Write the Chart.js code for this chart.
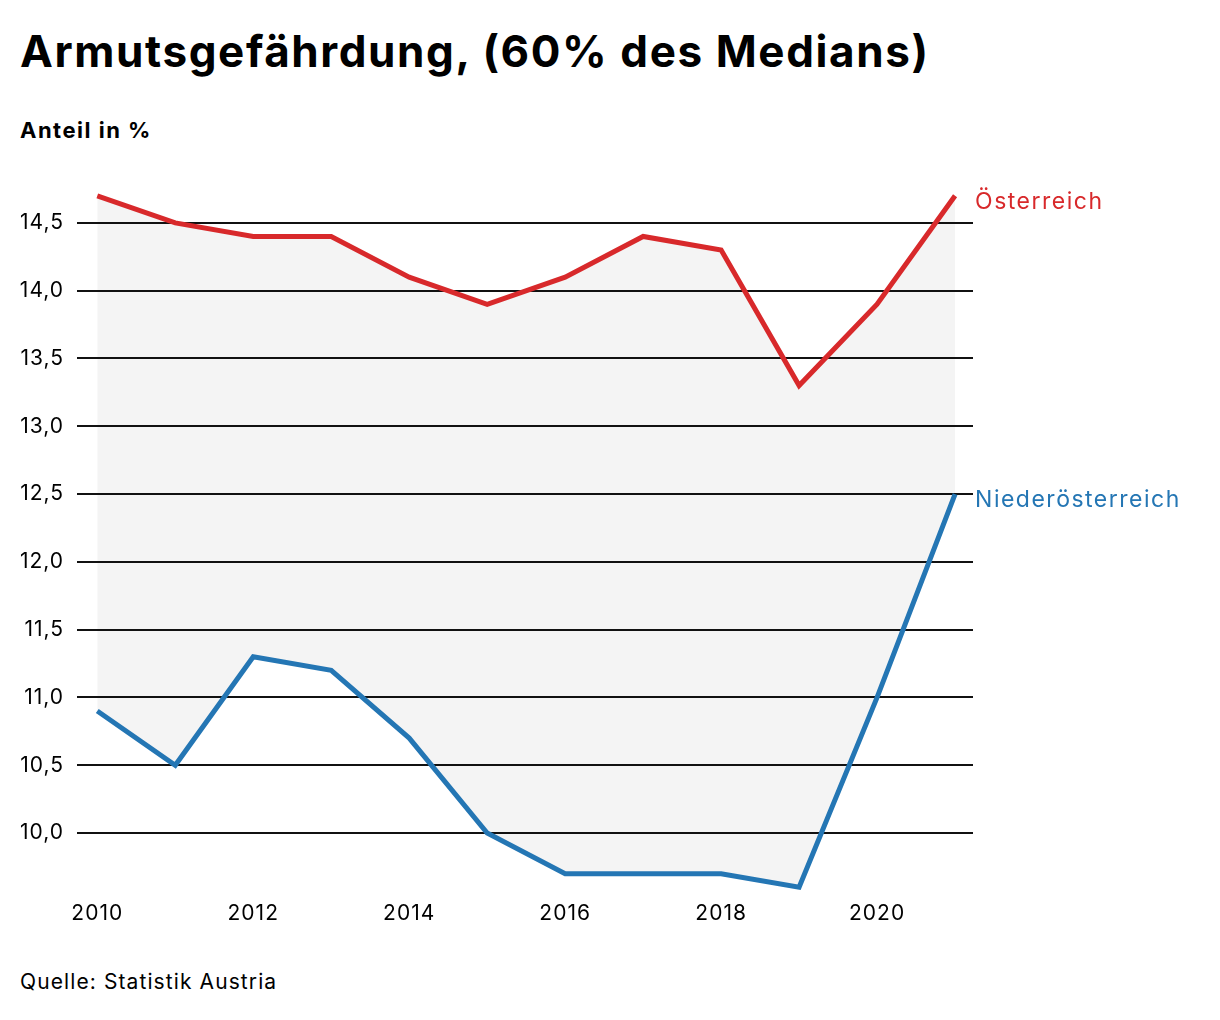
<!DOCTYPE html>
<html lang="de">
<head>
<meta charset="utf-8">
<script src="https://cdn.jsdelivr.net/npm/chart.js@4"></script>
<style>
  html, body { margin: 0; padding: 0; background: #fff; }
  body { width: 1220px; height: 1020px; position: relative; overflow: hidden; font-family: Inter, "Noto Sans", sans-serif; color: #000; }
  #title { position: absolute; left: 20px; top: 24px; font-size: 44px; font-weight: 700; white-space: nowrap; letter-spacing: 1.6px; }
  #subtitle { position: absolute; left: 20px; top: 117px; font-size: 22px; font-weight: 700; letter-spacing: 1.5px; }
  #source { position: absolute; left: 20px; top: 969px; font-size: 21px; letter-spacing: 1.1px; }
  #wrap { position: absolute; left: 0; top: 150px; width: 1220px; height: 800px; }
</style>
</head>
<body>
<div id="title">Armutsgefährdung, (60% des Medians)</div>
<div id="subtitle">Anteil in %</div>
<div id="wrap"><canvas id="chart"></canvas></div>
<div id="source">Quelle: Statistik Austria</div>
<script>
const years = [2010, 2011, 2012, 2013, 2014, 2015, 2016, 2017, 2018, 2019, 2020, 2021];
const oesterreich = [14.7, 14.5, 14.4, 14.4, 14.1, 13.9, 14.1, 14.4, 14.3, 13.3, 13.9, 14.7];
const niederoesterreich = [10.9, 10.5, 11.3, 11.2, 10.7, 10.0, 9.7, 9.7, 9.7, 9.6, 11.0, 12.5];
const xTicks = [2010, 2012, 2014, 2016, 2018, 2020];
const yTicks = [10.0, 10.5, 11.0, 11.5, 12.0, 12.5, 13.0, 13.5, 14.0, 14.5];

const red = '#d8292b';
const blue = '#2476b4';
const fontFamily = 'Inter, "Noto Sans", sans-serif';

// wider text on the canvas, closer to the original typeface
const spacing = {
    id: 'spacing',
    beforeDraw(chart) {
        chart.ctx.letterSpacing = '1px';
    }
};

const endLabels = {
    id: 'endLabels',
    afterDatasetsDraw(chart) {
        const ctx = chart.ctx;
        ctx.save();
        ctx.font = '23px ' + fontFamily;
        ctx.letterSpacing = '1.5px';
        ctx.textAlign = 'left';
        ctx.textBaseline = 'middle';
        chart.data.datasets.forEach((ds, i) => {
            const pts = chart.getDatasetMeta(i).data;
            const last = pts[pts.length - 1];
            ctx.fillStyle = ds.borderColor;
            ctx.fillText(ds.label, last.x + 20, last.y + 6);
        });
        ctx.restore();
    }
};

const toPoints = (vals) => vals.map((v, i) => ({ x: years[i], y: v }));

new Chart(document.getElementById('chart'), {
    type: 'line',
    data: {
        datasets: [
            {
                label: 'Österreich',
                data: toPoints(oesterreich),
                borderColor: red,
                borderWidth: 5,
                pointRadius: 0,
                fill: '+1',
                backgroundColor: '#f4f4f4',
            },
            {
                label: 'Niederösterreich',
                data: toPoints(niederoesterreich),
                borderColor: blue,
                borderWidth: 5,
                pointRadius: 0,
                fill: false,
            },
        ]
    },
    options: {
        responsive: true,
        maintainAspectRatio: false,
        animation: false,
        layout: { padding: { top: 39, right: 247, left: 0, bottom: 0 } },
        scales: {
            x: {
                type: 'linear',
                min: 2009.74,
                max: 2021.23,
                grid: { display: false, drawTicks: false },
                border: { display: false },
                afterBuildTicks: (scale) => { scale.ticks = xTicks.map(v => ({ value: v })); },
                afterFit: (scale) => { scale.height = 56; },
                ticks: {
                    padding: 7,
                    color: '#000',
                    font: { family: fontFamily, size: 21 },
                    callback: (v) => String(v),
                    maxRotation: 0,
                },
            },
            y: {
                min: 9.55,
                max: 14.75,
                grid: { color: '#111', lineWidth: 2, drawTicks: false },
                border: { display: false },
                afterBuildTicks: (scale) => { scale.ticks = yTicks.map(v => ({ value: v })); },
                afterFit: (scale) => { scale.width = 77; },
                ticks: {
                    padding: 13,
                    color: '#000',
                    font: { family: fontFamily, size: 21 },
                    callback: (v) => v.toFixed(1).replace('.', ','),
                },
            },
        },
        plugins: {
            legend: { display: false },
            tooltip: { enabled: false },
            filler: { drawTime: 'beforeDraw' },
        },
    },
    plugins: [spacing, endLabels],
});
</script>
</body>
</html>
